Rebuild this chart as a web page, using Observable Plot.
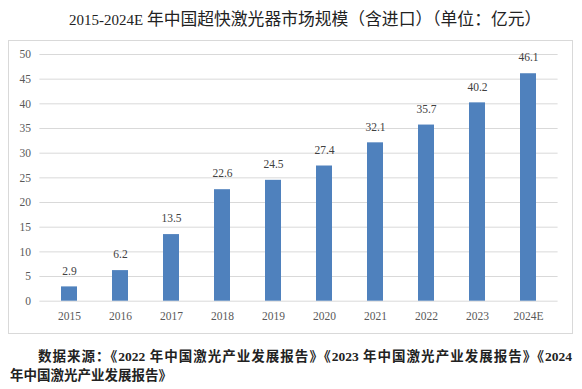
<!DOCTYPE html>
<html>
<head>
<meta charset="utf-8">
<script src="https://cdn.jsdelivr.net/npm/d3@7"></script>
<script src="https://cdn.jsdelivr.net/npm/@observablehq/plot@0.6"></script>
<style>
  html, body { margin: 0; padding: 0; background: #fff; }
  body { position: relative; width: 582px; height: 389px; overflow: hidden; font-family: "Liberation Serif", "Times New Roman", Tinos, "DejaVu Serif", "Noto Sans CJK SC", serif; }
  #title { position: absolute; left: 69px; top: 10px; line-height: 20px; font-size: 16.8px; color: #222; white-space: nowrap; }
  #title .lat { font-size: 15px; }
  #box { position: absolute; left: 8px; top: 40px; width: 565px; height: 294px; box-sizing: border-box; border: 1px solid #d9d9d9; }
  #chart { position: absolute; left: 0; top: 40px; }
  .cap { position: absolute; font-size: 13.5px; font-weight: bold; color: #222; line-height: 19px; white-space: nowrap; }
  #cap1 { left: 38px; top: 347px; width: 534px; text-align: justify; text-align-last: justify; }
  #cap2 { left: 10px; top: 366px; }
</style>
</head>
<body>
<div id="title"><span class="lat">2015-2024E </span>年中国超快激光器市场规模（含进口）（单位：亿元）</div>
<div id="box"></div>
<div id="chart"></div>
<div class="cap" id="cap1">数据来源：《2022 年中国激光产业发展报告》《2023 年中国激光产业发展报告》《2024</div>
<div class="cap" id="cap2">年中国激光产业发展报告》</div>
<script>
const years = ["2015", "2016", "2017", "2018", "2019", "2020", "2021", "2022", "2023", "2024E"];
const values = [2.9, 6.2, 13.5, 22.6, 24.5, 27.4, 32.1, 35.7, 40.2, 46.1];
const yTicks = [0, 5, 10, 15, 20, 25, 30, 35, 40, 45, 50];

const data = years.map((year, i) => ({year, value: values[i]}));

const chart = Plot.plot({
  width: 582,
  height: 294,
  marginLeft: 39.4,
  marginRight: 24.4,
  marginTop: 14,
  marginBottom: 33.3,
  style: {fontFamily: "'Liberation Serif', 'Times New Roman', Tinos, 'DejaVu Serif', serif", fontSize: "11.5px", color: "#595959", background: "transparent"},
  x: {domain: years, paddingInner: 0.69, paddingOuter: 0.345, label: null},
  y: {domain: [0, 50], label: null},
  marks: [
    Plot.gridY(yTicks, {stroke: "#d9d9d9", strokeOpacity: 1}),
    Plot.barY(data, {x: "year", y: "value", fill: "#4f81bd"}),
    Plot.text(data, {x: "year", y: "value", text: d => d.value.toFixed(1), dy: -16, fill: "#404040", fontSize: 11.5}),
    Plot.axisX({tickSize: 0, tickPadding: 11, label: null}),
    Plot.axisY(yTicks, {tickSize: 0, tickPadding: 9, label: null})
  ]
});
document.getElementById("chart").appendChild(chart);
</script>
</body>
</html>
